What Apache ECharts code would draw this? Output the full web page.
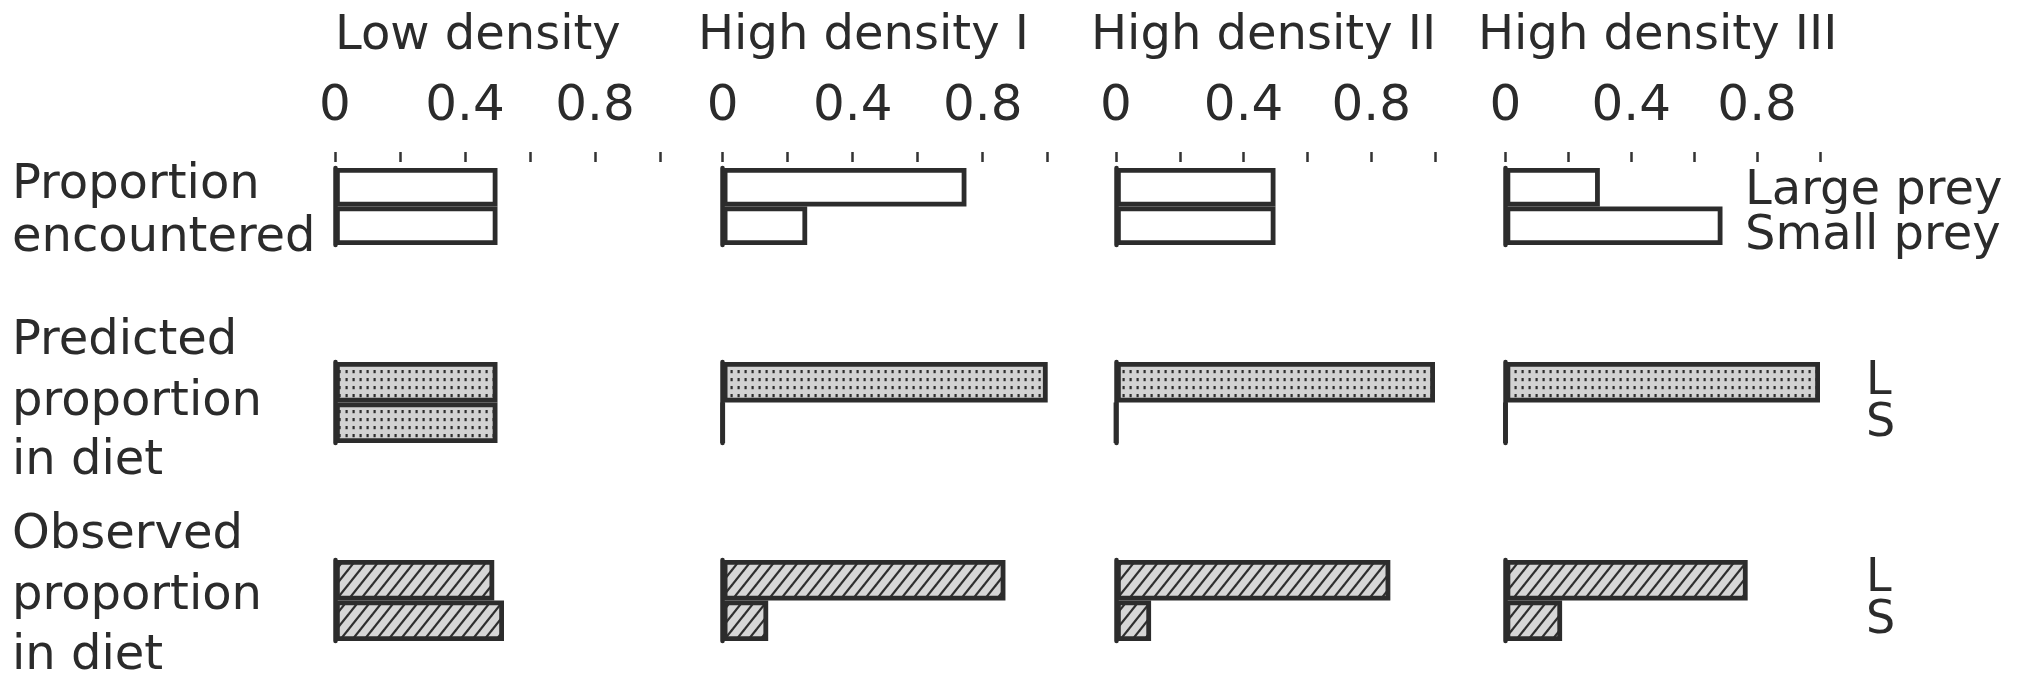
<!DOCTYPE html>
<html><head><meta charset="utf-8">
<script src="https://cdn.jsdelivr.net/npm/echarts@6/dist/echarts.min.js"></script>
<style>html,body{margin:0;padding:0;background:#fff}#c{width:2022px;height:687px}</style>
</head><body><div id="c"></div>
<script>
// ---- data ----
const panels = ['Low density', 'High density I', 'High density II', 'High density III'];
const preyCategories = ['L', 'S'];
const preyLongLabels = ['Large prey', 'Small prey'];
const preyShortLabels = ['L', 'S'];
const rowLabels = [['Proportion', 'encountered'], ['Predicted', 'proportion', 'in diet'], ['Observed', 'proportion', 'in diet']];
const tickLabels = ['0', '0.4', '0.8'];
// [large prey, small prey] per panel
const encountered = [[0.5, 0.5], [0.75, 0.26], [0.5, 0.5], [0.3, 0.69]];
const predicted   = [[0.5, 0.5], [1.0, 0], [1.0, 0], [1.0, 0]];
const observed    = [[0.49, 0.52], [0.87, 0.14], [0.86, 0.11], [0.77, 0.18]];
const rowData = [encountered, predicted, observed];

// ---- layout / style ----
const FONT = 'DejaVu Sans';
const INK = '#2b2b2b';
const panelX = [[335, 325], [722.7, 325], [1116, 319], [1505.5, 314.5]];
const rowY = [[168, 77], [362, 81], [560, 81]];

function dotPattern() {
  const c = document.createElement('canvas'); c.width = 7; c.height = 8;
  const g = c.getContext('2d');
  g.fillStyle = '#d2d2d2'; g.fillRect(0, 0, 7, 8);
  g.fillStyle = '#2e2e2e'; g.fillRect(2.5, 2, 2.2, 3.2);
  return c;
}
function hatchPattern() {
  const w = 12, h = 15;
  const c = document.createElement('canvas'); c.width = w; c.height = h;
  const g = c.getContext('2d');
  g.fillStyle = '#d6d6d6'; g.fillRect(0, 0, w, h);
  g.strokeStyle = '#2e2e2e'; g.lineWidth = 2.2;
  [-w, 0, w].forEach(dx => {
    g.beginPath(); g.moveTo(dx - w, 2 * h); g.lineTo(dx + 2 * w, -h); g.stroke();
  });
  return c;
}
const fills = ['#ffffff', { image: dotPattern(), repeat: 'repeat' }, { image: hatchPattern(), repeat: 'repeat' }];

const grid = [], xAxis = [], yAxis = [], series = [];
rowY.forEach(([top, height], r) => {
  panelX.forEach(([left, width], p) => {
    const i = grid.length;
    grid.push({ left, top, width, height, containLabel: false });
    xAxis.push({
      gridIndex: i, type: 'value', min: 0, max: 1, interval: 0.2, position: 'top',
      show: r === 0, offset: 6,
      axisLine: { show: false },
      axisTick: { show: true, length: 10, lineStyle: { color: '#333', width: 2.5 } },
      splitLine: { show: false },
      axisLabel: {
        show: true, margin: 30, fontSize: 50, fontFamily: FONT, color: INK,
        formatter: v => { const s = String(Math.round(v * 10) / 10); return tickLabels.includes(s) ? s : ''; }
      }
    });
    yAxis.push({
      gridIndex: i, type: 'category', data: preyCategories, inverse: true,
      axisLine: { show: true, lineStyle: { color: '#2c2c2c', width: 4.5 } },
      axisTick: { show: false }, axisLabel: { show: false }, splitLine: { show: false }
    });
    series.push({
      type: 'bar', xAxisIndex: i, yAxisIndex: i, data: rowData[r][p],
      barCategoryGap: '0%', silent: true,
      itemStyle: { color: fills[r], borderColor: '#2c2c2c', borderWidth: 4.8 }
    });
  });
});

const graphic = [];
const txt = (text, x, y, size) => graphic.push({
  type: 'text', x, y, silent: true,
  style: { text, font: `${size || 48}px "${FONT}"`, fill: INK, verticalAlign: 'middle', align: 'left' }
});
// panel titles
const titleX = [335, 698, 1091, 1478];
panels.forEach((t, p) => txt(t, titleX[p], 37));
// row labels (baselines -> middle = baseline - 17)
const rowBase = [[203, 256], [359, 420, 479], [553, 614, 674]];
rowLabels.forEach((lines, r) => lines.forEach((l, k) => txt(l, 12, rowBase[r][k] - 17)));
// right side prey labels
txt(preyLongLabels[0], 1745, 209 - 17);
txt(preyLongLabels[1], 1745, 254 - 17);
txt(preyShortLabels[0], 1866, 399 - 17, 46);
txt(preyShortLabels[1], 1866, 441 - 17, 46);
txt(preyShortLabels[0], 1866, 596 - 17, 46);
txt(preyShortLabels[1], 1866, 638 - 17, 46);

const chart = echarts.init(document.getElementById('c'));
chart.setOption({ animation: false, backgroundColor: '#fff', grid, xAxis, yAxis, series, graphic });
</script></body></html>
